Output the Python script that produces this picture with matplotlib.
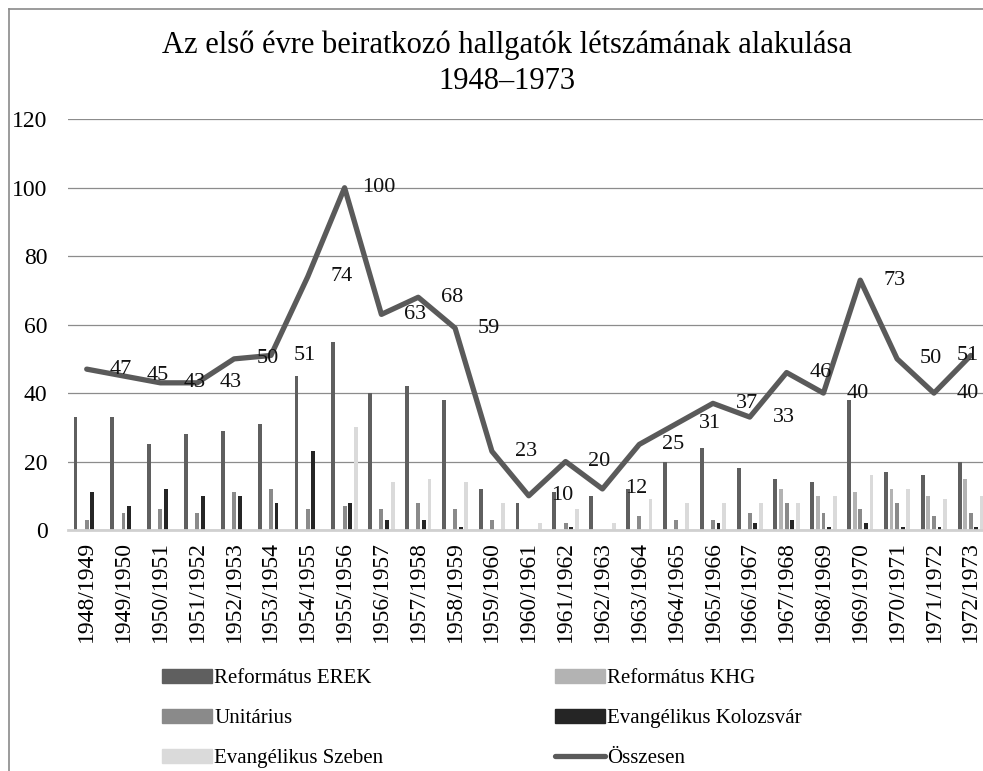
import matplotlib
matplotlib.use('Agg')
import matplotlib.pyplot as plt
from matplotlib.lines import Line2D
from matplotlib.patches import Patch
import numpy as np

# school years on the x axis
years = ['1948/1949', '1949/1950', '1950/1951', '1951/1952', '1952/1953',
         '1953/1954', '1954/1955', '1955/1956', '1956/1957', '1957/1958',
         '1958/1959', '1959/1960', '1960/1961', '1961/1962', '1962/1963',
         '1963/1964', '1964/1965', '1965/1966', '1966/1967', '1967/1968',
         '1968/1969', '1969/1970', '1970/1971', '1971/1972', '1972/1973']

ref_erek = [33, 33, 25, 28, 29, 31, 45, 55, 40, 42, 38, 12, 8, 11, 10, 12, 20, 24, 18, 15, 14, 38, 17, 16, 20]
ref_khg = [0, 0, 0, 0, 0, 0, 0, 0, 0, 0, 0, 0, 0, 0, 0, 0, 0, 0, 0, 12, 10, 11, 12, 10, 15]
unitarius = [3, 5, 6, 5, 11, 12, 6, 7, 6, 8, 6, 3, 0, 2, 0, 4, 3, 3, 5, 8, 5, 6, 8, 4, 5]
ev_kolozsvar = [11, 7, 12, 10, 10, 8, 23, 8, 3, 3, 1, 0, 0, 1, 0, 0, 0, 2, 2, 3, 1, 2, 1, 1, 1]
ev_szeben = [0, 0, 0, 0, 0, 0, 0, 30, 14, 15, 14, 8, 2, 6, 2, 9, 8, 8, 8, 8, 10, 16, 12, 9, 10]
osszesen = [47, 45, 43, 43, 50, 51, 74, 100, 63, 68, 59, 23, 10, 20, 12, 25, 31, 37, 33, 46, 40, 73, 50, 40, 51]

series_names = ['Református EREK', 'Református KHG', 'Unitárius',
                'Evangélikus Kolozsvár', 'Evangélikus Szeben']
series_data = [ref_erek, ref_khg, unitarius, ev_kolozsvar, ev_szeben]
series_colors = ['#5f5f5f', '#b3b3b3', '#8a8a8a', '#252525', '#dadada']
line_color = '#5a5a5a'

plt.rcParams['font.family'] = ['Liberation Serif', 'DejaVu Serif']

W, H = 983, 771
fig = plt.figure(figsize=(W / 100, H / 100), dpi=100)
fig.patch.set_facecolor('white')

# plot area in pixels (the right end runs off the picture like in the original)
left_px, right_px, top_px, bottom_px = 68.3, 989.2, 119.3, 530
ax = fig.add_axes([left_px / W, 1 - bottom_px / H,
                   (right_px - left_px) / W, (bottom_px - top_px) / H])

x = np.arange(len(years))
slot = 0.152
bar_w = 0.105
for k in range(5):
    ax.bar(x + (k - 2) * slot, series_data[k], width=bar_w,
           color=series_colors[k], zorder=2)

ax.plot(x, osszesen, color=line_color, lw=3.8, solid_joinstyle='round',
        solid_capstyle='round', zorder=3)

# data labels of the total line (shifted one category to the right, as in the original)
for i, v in enumerate(osszesen):
    lx = min(i + 1, len(years) - 1) - 0.08
    ax.text(lx, v, str(v), ha='center', va='center', fontsize=16,
            color='#111111', zorder=4)

ax.set_xlim(-0.5, len(years) - 0.5)
ax.set_ylim(0, 120)
ax.set_yticks(range(0, 121, 20))
ax.set_xticks(x)
ax.set_xticklabels(years, rotation=90)
ax.tick_params(axis='y', length=0, pad=15, labelsize=17)
ax.tick_params(axis='x', length=0, pad=8, labelsize=17)
ax.yaxis.grid(True, color='#8c8c8c', lw=0.9)
ax.set_axisbelow(True)
for s in ['top', 'right', 'left']:
    ax.spines[s].set_visible(False)
ax.spines['bottom'].set_color('#d0d0d0')
ax.spines['bottom'].set_linewidth(2)
ax.set_facecolor('none')

fig.text(507 / W, 1 - 63 / H,
         'Az első évre beiratkozó hallgatók létszámának alakulása\n1948–1973',
         ha='center', va='center', fontsize=22, linespacing=1.3)

# legend in two columns, filled row by row
handles = [Patch(color=c) for c in series_colors]
handles.append(Line2D([0], [0], color=line_color, lw=3.8, solid_capstyle='round'))
names = series_names + ['Összesen']
col1 = [0, 2, 4]
col2 = [1, 3, 5]
leg_kw = dict(frameon=False, fontsize=15, handlelength=2.4, handleheight=0.65,
              handletextpad=0.1, labelspacing=1.0, borderpad=0, borderaxespad=0,
              loc='upper left')
leg1 = fig.legend([handles[i] for i in col1], [names[i] for i in col1],
                  bbox_to_anchor=(162 / W, 1 - 669 / H), **leg_kw)
leg2 = fig.legend([handles[i] for i in col2], [names[i] for i in col2],
                  bbox_to_anchor=(555 / W, 1 - 669 / H), **leg_kw)

# chart border (only top and left edges are inside the picture)
fig.add_artist(Line2D([9 / W, 1], [1 - 9 / H, 1 - 9 / H], color='#8a8a8a', lw=1.2))
fig.add_artist(Line2D([9 / W, 9 / W], [0, 1 - 9 / H], color='#8a8a8a', lw=1.2))

fig.savefig('out.png', dpi=100)
